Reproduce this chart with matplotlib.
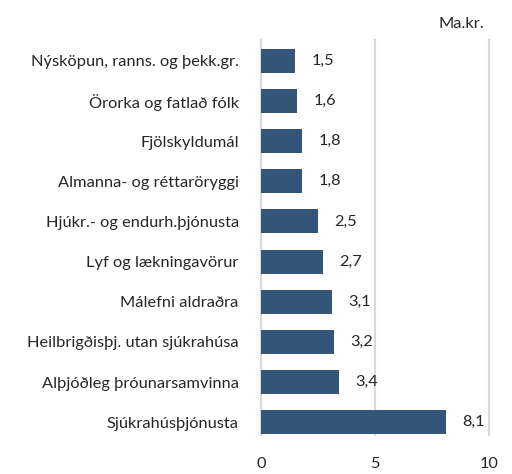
import matplotlib
matplotlib.use("Agg")
import matplotlib.pyplot as plt

plt.rcParams["font.family"] = ["Lato", "DejaVu Sans"]

# categories listed top to bottom, as in the reference
CATEGORIES = [
    "Nýsköpun, ranns. og þekk.gr.",
    "Örorka og fatlað fólk",
    "Fjölskyldumál",
    "Almanna- og réttaröryggi",
    "Hjúkr.- og endurh.þjónusta",
    "Lyf og lækningavörur",
    "Málefni aldraðra",
    "Heilbrigðisþj. utan sjúkrahúsa",
    "Alþjóðleg þróunarsamvinna",
    "Sjúkrahúsþjónusta",
]
VALUES = [1.5, 1.6, 1.8, 1.8, 2.5, 2.7, 3.1, 3.2, 3.4, 8.1]
XTICKS = [0, 5, 10]
UNIT = "Ma.kr."

BAR = "#335679"
GRID = "#d9d9d9"
TXT = "#262626"
FS = 11.8

fig = plt.figure(figsize=(5.12, 4.74), dpi=100)
ax = fig.add_axes([0.5098, 0.0823, 0.4453, 0.8333])

n = len(CATEGORIES)
ypos = list(range(n - 1, -1, -1))
ax.barh(ypos, VALUES, height=0.6, color=BAR, zorder=3)

for y, v in zip(ypos, VALUES):
    ax.annotate(f"{v:.1f}".replace(".", ","), xy=(v, y), xytext=(12, 0),
                textcoords="offset points", ha="left", va="center",
                fontsize=FS, color=TXT)

ax.set_xlim(0, 10)
ax.set_ylim(-0.32, n - 0.48)
ax.set_xticks(XTICKS)
ax.set_yticks(ypos)
ax.set_yticklabels(CATEGORIES)
for x in XTICKS:
    ax.axvline(x, color=GRID, lw=1.6, zorder=0, clip_on=False)
ax.tick_params(axis="both", length=0, labelsize=FS, labelcolor=TXT)
ax.tick_params(axis="x", pad=16)
ax.tick_params(axis="y", pad=16)
for s in ax.spines.values():
    s.set_visible(False)

fig.text(0.945, 0.95, UNIT, ha="right", va="center", fontsize=FS, color=TXT)

fig.savefig("out.png", dpi=100)
